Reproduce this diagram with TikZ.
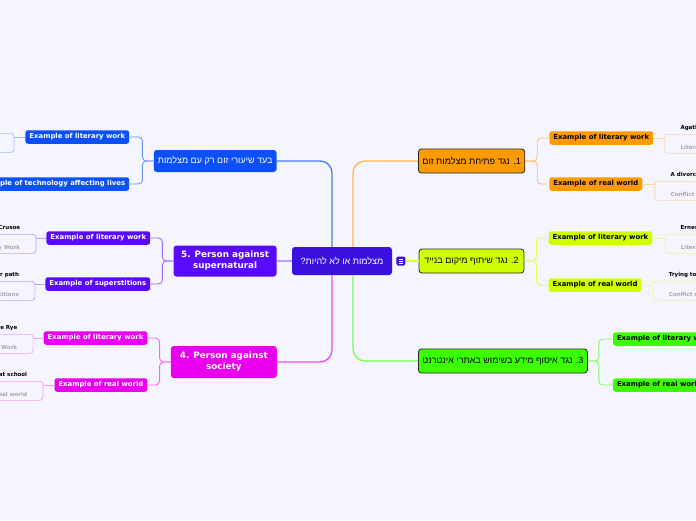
\documentclass[tikz,border=0pt]{standalone}
\usepackage{fontspec}
\setmainfont{DejaVu Sans}
\newfontfamily\hebfont[Script=Hebrew]{Liberation Sans}
\usepackage{xcolor}
\usetikzlibrary{positioning}
\TeXXeTstate=1

\definecolor{bg}{HTML}{F4F5FE}
\definecolor{hubc}{HTML}{3A10DE}
\definecolor{cblue}{HTML}{0B50F6}
\definecolor{cviolet}{HTML}{5A0AFA}
\definecolor{cmag}{HTML}{EA00EE}
\definecolor{corange}{HTML}{FF9B00}
\definecolor{cyel}{HTML}{D2FF00}
\definecolor{cgreen}{HTML}{3BFF00}
\definecolor{leafgray}{HTML}{A6A6B0}

\begin{document}
\begin{tikzpicture}[x=1pt, y=-1pt, node distance=12pt,
  hub/.style={fill=hubc, rounded corners=3pt, text=white, minimum width=100pt, minimum height=28pt, inner sep=2pt, font=\hebfont\fontsize{9}{11}\selectfont},
  topic/.style={draw=black!85, line width=0.8pt, rounded corners=3pt, minimum width=105pt, minimum height=24pt, inner xsep=4pt, inner ysep=2pt, font=\hebfont\fontsize{9}{11}\selectfont},
  persona/.style={rounded corners=3pt, text=white, align=center, inner sep=2pt, font=\bfseries\fontsize{8.8}{11}\selectfont},
  sub/.style={rounded corners=2.5pt, inner xsep=4pt, inner ysep=0pt, minimum height=13.5pt, font=\bfseries\fontsize{6.9}{8}\selectfont},
  leaf/.style={draw, fill=bg, line width=0.7pt, rounded corners=3pt, text=leafgray, text width=70pt, align=left, inner xsep=16pt, inner ysep=3.5pt, text height=12pt, text depth=0pt, font=\bfseries\fontsize{5.5}{6.5}\selectfont},
  leaftitle/.style={inner sep=0pt, text depth=1.2pt, font=\bfseries\fontsize{5.5}{6.5}\selectfont},
  link/.style={line width=1.3pt, rounded corners=12pt},
  twig/.style={line width=0.9pt, rounded corners=4pt}]

  \useasboundingbox (0,0) rectangle (696,520);
  \fill[bg] (0,0) rectangle (696,520);
  \clip (0,0) rectangle (696,520);

  \node[hub] (hub) at (342,261) {\beginR מצלמות או לא להיות?\endR};
  \node[fill=hubc, rounded corners=1.5pt, minimum size=9pt, inner sep=0pt, right=4pt of hub] (note) {};
  \draw[white, line width=0.6pt] ([xshift=-2.3pt, yshift=2.2pt]note.center) -- ++(4.6pt,0pt)
    ([xshift=-2.3pt]note.center) -- ++(4.6pt,0pt)
    ([xshift=-2.3pt, yshift=-2.2pt]note.center) -- ++(4.6pt,0pt);

  \node[topic, fill=corange, anchor=west] (t1) at (418,161) {\beginR 1. נגד פתיחת מצלמות זום\endR};
  \node[topic, fill=cyel, right=13pt of note] (t2) {\beginR 2. נגד שיתוף מיקום בנייד\endR};
  \node[topic, fill=cgreen, minimum width=164pt, anchor=west] (t3) at (418,361) {\beginR 3. נגד איסוף מידע בשימוש באתרי אינטרנט\endR};
  \node[topic, draw=none, fill=cblue, text=white, minimum width=120pt, minimum height=22pt, anchor=east] (pro) at (277,161) {\beginR בעד שיעורי זום רק עם מצלמות\endR};
  \node[persona, fill=cviolet, minimum width=103pt, minimum height=31pt, left=15pt of hub] (p5) {5. Person against\\supernatural};
  \node[persona, fill=cmag, minimum width=106pt, minimum height=32pt, anchor=east] (p4) at (277,362) {4. Person against\\society};

  \draw[link, cblue!75!white] ([xshift=-10pt]hub.north) |- (pro.east);
  \draw[link, cmag!70!white] ([xshift=-10pt]hub.south) |- (p4.east);
  \draw[link, corange!70!white] ([xshift=11pt]hub.north) |- (t1.west);
  \draw[link, cgreen!70!white] ([xshift=11pt]hub.south) |- (t3.west);
  \draw[link, cviolet!40!white] (hub.west) -- (p5.east);
  \draw[link, cyel!70!white] (note.east) -- (t2.west);

  \node[sub, fill=corange, right=24pt of t1.east, yshift=23pt] (t1lit) {Example of literary work};
  \node[sub, fill=corange, right=24pt of t1.east, yshift=-23pt] (t1real) {Example of real world};
  \node[sub, fill=cyel, right=24pt of t2.east, yshift=23pt] (t2lit) {Example of literary work};
  \node[sub, fill=cyel, right=24pt of t2.east, yshift=-24pt] (t2real) {Example of real world};
  \node[sub, fill=cgreen, right=25pt of t3.east, yshift=22pt] (t3lit) {Example of literary work};
  \node[sub, fill=cgreen, right=25pt of t3.east, yshift=-24pt] (t3real) {Example of real world};
  \node[sub, fill=cblue, text=white, left=24pt of pro.west, yshift=24pt] (prolit) {Example of literary work};
  \node[sub, fill=cblue, text=white, left=24pt of pro.west, yshift=-23pt] (protech) {Example of technology affecting lives};
  \node[sub, fill=cviolet, text=white, left=23pt of p5.west, yshift=23pt] (p5lit) {Example of literary work};
  \node[sub, fill=cviolet, text=white, left=23pt of p5.west, yshift=-23pt] (p5sup) {Example of superstitions};
  \node[sub, fill=cmag, text=white, left=23pt of p4.west, yshift=24pt] (p4lit) {Example of literary work};
  \node[sub, fill=cmag, text=white, left=23pt of p4.west, yshift=-23pt] (p4real) {Example of real world};

  \draw[twig, corange!60!white] (t1.east) -- ++(12pt,0pt) |- (t1lit.west);
  \draw[twig, corange!60!white] (t1.east) -- ++(12pt,0pt) |- (t1real.west);
  \draw[twig, cyel!70!white] (t2.east) -- ++(12pt,0pt) |- (t2lit.west);
  \draw[twig, cyel!70!white] (t2.east) -- ++(12pt,0pt) |- (t2real.west);
  \draw[twig, cgreen!65!white] (t3.east) -- ++(11pt,0pt) |- (t3lit.west);
  \draw[twig, cgreen!65!white] (t3.east) -- ++(11pt,0pt) |- (t3real.west);
  \draw[twig, cblue!60!white] (pro.west) -- ++(-11pt,0pt) |- (prolit.east);
  \draw[twig, cblue!60!white] (pro.west) -- ++(-11pt,0pt) |- (protech.east);
  \draw[twig, cviolet!60!white] (p5.west) -- ++(-11pt,0pt) |- (p5lit.east);
  \draw[twig, cviolet!60!white] (p5.west) -- ++(-11pt,0pt) |- (p5sup.east);
  \draw[twig, cmag!60!white] (p4.west) -- ++(-11pt,0pt) |- (p4lit.east);
  \draw[twig, cmag!60!white] (p4.west) -- ++(-11pt,0pt) |- (p4real.east);

  \node[leaf, draw=corange!35!bg, right=11pt of t1lit.east, anchor=north west, yshift=4pt] (t1litleaf) {Literary Work};
  \node[leaftitle, above right=3pt and 16pt of t1litleaf.north west] (t1littitle) {Agatha};
  \node[leaf, draw=corange!35!bg, right=12pt of t1real.east, anchor=north west, yshift=3pt] (t1realleaf) {Conflict of real world};
  \node[leaftitle, above right=3pt and 16pt of t1realleaf.north west] (t1realtitle) {A divorcing};
  \node[leaf, draw=cyel!40!bg, right=12pt of t2lit.east, anchor=north west, yshift=4pt] (t2litleaf) {Literary Work};
  \node[leaftitle, above right=3pt and 16pt of t2litleaf.north west] (t2littitle) {Ernest};
  \node[leaf, draw=cyel!40!bg, right=11pt of t2real.east, anchor=north west, yshift=4pt] (t2realleaf) {Conflict of real world};
  \node[leaftitle, above right=3pt and 16pt of t2realleaf.north west] (t2realtitle) {Trying to};

  \node[leaf, align=right, draw=cblue!35!bg, left=11pt of prolit.west, anchor=north east, yshift=4pt] (prolitleaf) {Literary Work};
  \node[leaftitle, above left=3pt and 16pt of prolitleaf.north east] (prolittitle) {y};
  \node[leaf, align=right, draw=cviolet!35!bg, left=10pt of p5lit.west, anchor=north east, yshift=4pt] (p5litleaf) {Literary Work};
  \node[leaftitle, above left=3pt and 16pt of p5litleaf.north east] (p5littitle) {Robinson Crusoe};
  \node[leaf, align=right, draw=cviolet!35!bg, left=10pt of p5sup.west, anchor=north east, yshift=3pt] (p5supleaf) {Superstitions};
  \node[leaftitle, above left=3pt and 16pt of p5supleaf.north east] (p5suptitle) {your path};
  \node[leaf, align=right, draw=cmag!35!bg, left=10pt of p4lit.west, anchor=north east, yshift=4pt] (p4litleaf) {Literary Work};
  \node[leaftitle, above left=3pt and 16pt of p4litleaf.north east] (p4littitle) {Catcher in the Rye};
  \node[leaf, align=right, draw=cmag!35!bg, left=11pt of p4real.west, anchor=north east, yshift=4pt] (p4realleaf) {Conflict of real world};
  \node[leaftitle, above left=3pt and 16pt of p4realleaf.north east] (p4realtitle) {at school};

  \draw[twig, corange!40!white] (t1lit) -- (t1litleaf.west |- t1lit);
  \draw[twig, corange!40!white] (t1real) -- (t1realleaf.west |- t1real);
  \draw[twig, cyel!50!white] (t2lit) -- (t2litleaf.west |- t2lit);
  \draw[twig, cyel!50!white] (t2real) -- (t2realleaf.west |- t2real);
  \draw[twig, cblue!40!white] (prolit) -- (prolitleaf.east |- prolit);
  \draw[twig, cviolet!40!white] (p5lit) -- (p5litleaf.east |- p5lit);
  \draw[twig, cviolet!40!white] (p5sup) -- (p5supleaf.east |- p5sup);
  \draw[twig, cmag!40!white] (p4lit) -- (p4litleaf.east |- p4lit);
  \draw[twig, cmag!40!white] (p4real) -- (p4realleaf.east |- p4real);
\end{tikzpicture}
\end{document}
